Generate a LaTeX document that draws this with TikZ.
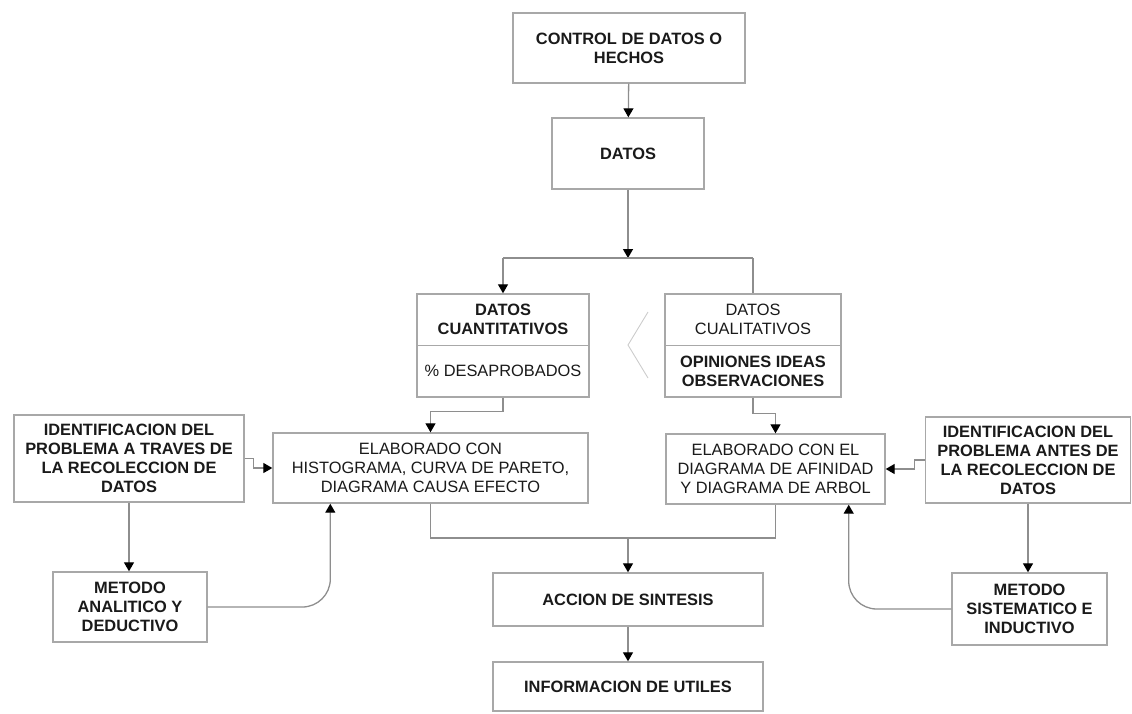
\documentclass[tikz,border=0pt]{standalone}
\usepackage{fontspec}
\setmainfont{Liberation Sans}
\usetikzlibrary{arrows.meta}
\definecolor{boxgray}{HTML}{A8A8A8}
\definecolor{linegray}{HTML}{8E8E8E}
\definecolor{chevgray}{HTML}{CCCCCC}
\definecolor{ink}{HTML}{1A1A1A}
\newcommand{\boxfont}{\fontsize{16.4}{19}\selectfont}
\begin{document}
\begin{tikzpicture}[x=1pt,y=-1pt,
  box/.style={draw=boxgray, line width=1.4pt, fill=white, inner sep=0pt,
    align=center, text=ink, font=\boxfont\bfseries},
  plain/.style={font=\boxfont},
  label/.style={inner sep=0pt, align=center, text=ink, font=\boxfont\bfseries},
  conn/.style={draw=linegray, line width=1.3pt},
  arr/.style={conn, -{Triangle[width=10pt,length=9pt,color=black]}},
  chev/.style={draw=chevgray, line width=0.9pt}
]
\useasboundingbox (0,0) rectangle (1132,713);

% main column
\node[box, minimum width=232pt, minimum height=70pt] (ctrl) at (629,48) {CONTROL DE DATOS O\\HECHOS};
\node[box, minimum width=152pt, minimum height=71pt] (datos) at (628,153.5) {DATOS};

% split into the two kinds of data
\coordinate (split) at (628,258);
\coordinate (splitL) at (503,258);
\coordinate (splitR) at (753,258);

% quantitative data box with two compartments
\node[box, minimum width=172pt, minimum height=103pt] (cuant) at (503,345.5) {};
\draw[draw=boxgray, line width=1.4pt] (cuant.west) -- (cuant.east);
\node[label] (cuantA) at (503,319.5) {DATOS\\CUANTITATIVOS};
\node[label, plain] (cuantB) at (503,371) {\% DESAPROBADOS};

% qualitative data box with two compartments
\node[box, minimum width=176pt, minimum height=103pt] (cualit) at (753,345.5) {};
\draw[draw=boxgray, line width=1.4pt] (cualit.west) -- (cualit.east);
\node[label, plain] (cualitA) at (753,319.5) {DATOS\\CUALITATIVOS};
\node[label] (cualitB) at (753,371) {OPINIONES IDEAS\\OBSERVACIONES};

% angle mark between the two data boxes
\draw[chev] (648,312) -- (628,345) -- (648,378);

% elaboration boxes
\node[box, plain, minimum width=315pt, minimum height=70pt] (elabL) at (430.5,468) {ELABORADO CON\\HISTOGRAMA, CURVA DE PARETO,\\DIAGRAMA CAUSA EFECTO};
\node[box, plain, minimum width=219pt, minimum height=70pt] (elabR) at (775.5,469) {ELABORADO CON EL\\DIAGRAMA DE AFINIDAD\\Y DIAGRAMA DE ARBOL};

% problem identification boxes
\node[box, minimum width=230pt, minimum height=87pt] (identL) at (129,458.5) {IDENTIFICACION DEL\\PROBLEMA A TRAVES DE\\LA RECOLECCION DE\\DATOS};
\node[box, minimum width=205pt, minimum height=86pt] (identR) at (1028,460) {IDENTIFICACION DEL\\PROBLEMA ANTES DE\\LA RECOLECCION DE\\DATOS};

% method boxes
\node[box, minimum width=154pt, minimum height=70pt] (metA) at (130,607) {METODO\\ANALITICO Y\\DEDUCTIVO};
\node[box, minimum width=155pt, minimum height=72pt] (metS) at (1029.5,609) {METODO\\SISTEMATICO E\\INDUCTIVO};

% synthesis and result
\coordinate (join) at (628,538);
\node[box, minimum width=270pt, minimum height=53pt] (accion) at (628,599.5) {ACCION DE SINTESIS};
\node[box, minimum width=270pt, minimum height=49pt] (info) at (628,686.5) {INFORMACION DE UTILES};

% connectors
\draw[arr] (ctrl) -- (datos);
\draw[arr] (datos) -- (split);
\draw[conn] (splitL) -- (splitR);
\draw[arr] (splitL) -- (cuant);
\draw[conn] (splitR) -- (cualit);

\draw[arr] (cuant.south) -- ++(0,14) -| (elabL.north);
\draw[arr] (cualit.south) -- ++(0,16) -| (elabR.north);

\draw[conn] (elabL.south) |- (join) -| (elabR.south);
\draw[arr] (join) -- (accion);
\draw[arr] (accion) -- (info);

\draw[arr] (identL.east) -- ++(9,0) |- (elabL.west);
\draw[arr] (identR.west) -- ++(-10,0) |- (elabR.east);

\draw[arr] (identL.south) -- (identL.south |- metA.north);
\draw[arr] (identR.south) -- (identR.south |- metS.north);

\draw[arr, rounded corners=28pt] (metA.east) -| ([xshift=58pt]elabL.south west);
\draw[arr, rounded corners=28pt] (metS.west) -| ([xshift=-37pt]elabR.south east);
\end{tikzpicture}
\end{document}
